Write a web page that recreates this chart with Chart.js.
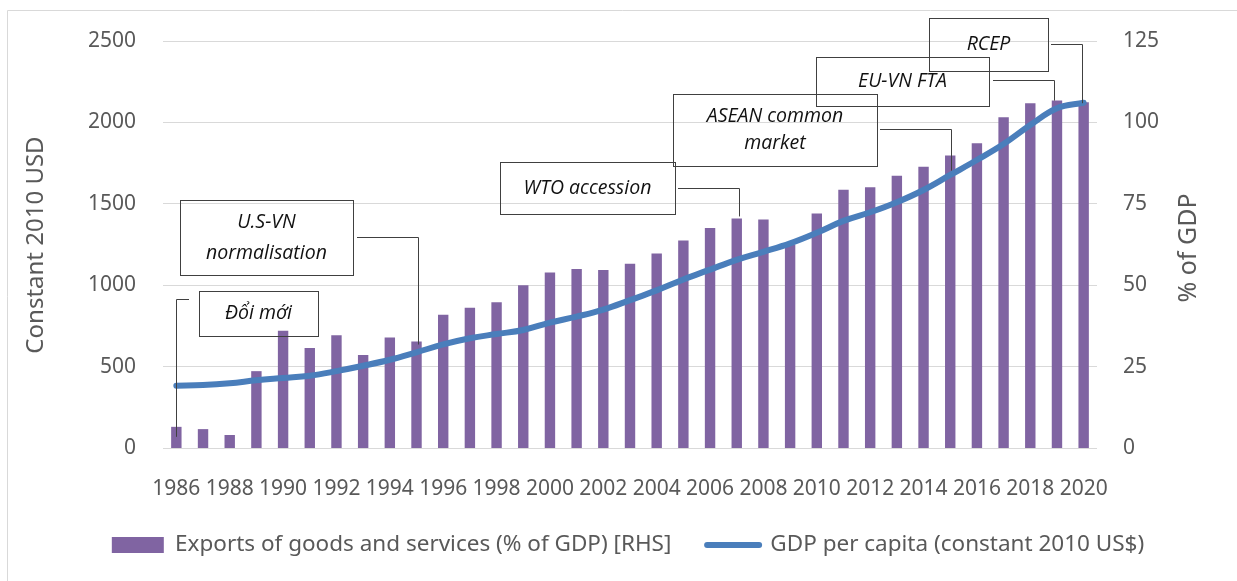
<!DOCTYPE html>
<html>
<head>
<meta charset="utf-8">
<script src="https://cdn.jsdelivr.net/npm/chart.js@4.4.1/dist/chart.umd.min.js"></script>
<style>
  html, body { margin: 0; padding: 0; background: #fff; }
</style>
</head>
<body>
<canvas id="chart" width="1237" height="581"></canvas>
<script>
const years = [
  "1986", "1987", "1988", "1989", "1990", "1991", "1992", "1993", "1994", "1995",
  "1996", "1997", "1998", "1999", "2000", "2001", "2002", "2003", "2004", "2005",
  "2006", "2007", "2008", "2009", "2010", "2011", "2012", "2013", "2014", "2015",
  "2016", "2017", "2018", "2019", "2020"
];

// Exports of goods and services, % of GDP (right axis)
const exportsPct = [
  6.5, 5.8, 4.0, 23.6, 36.0, 30.7, 34.6, 28.6, 33.9, 32.7,
  40.9, 43.1, 44.8, 50.0, 53.9, 55.0, 54.7, 56.6, 59.7, 63.7,
  67.6, 70.5, 70.2, 62.4, 72.0, 79.3, 80.1, 83.6, 86.4, 89.8,
  93.6, 101.6, 105.9, 106.7, 106.2
];

// GDP per capita, constant 2010 US$ (left axis)
const gdpPerCapita = [
  383, 387, 398, 416, 430, 444, 472, 505, 542, 588,
  636, 674, 700, 725, 770, 807, 850, 908, 968, 1035,
  1096, 1156, 1205, 1257, 1322, 1395, 1448, 1510, 1585, 1677,
  1769, 1867, 1984, 2087, 2121
];

const eventYears = ["1986", "1995", "2007", "2015", "2019", "2020"];
const eventLabels = [
  ["Đổi mới"],
  ["U.S-VN", "normalisation"],
  ["WTO accession"],
  ["ASEAN common", "market"],
  ["EU-VN FTA"],
  ["RCEP"]
];

// where each callout box sits on the page, and where its leader starts
const eventBoxes = [
  { x: 199, y: 291, w: 119, h: 45, sx: 189, ly: 299, dx: 0, dy: 10, lh: 0 },
  { x: 180, y: 200, w: 173, h: 75, sx: 357, ly: 237, dx: 1, dy: 3, lh: 31 },
  { x: 500, y: 162, w: 175, h: 52, sx: 678, ly: 188, dx: 2, dy: -2, lh: 0 },
  { x: 673, y: 94, w: 204, h: 72, sx: 880, ly: 129, dx: 1, dy: 15, lh: 27 },
  { x: 816, y: 57, w: 173, h: 49, sx: 993, ly: 80, dx: -3, dy: 0, lh: 0 },
  { x: 929, y: 18, w: 119, h: 53, sx: 1051, ly: 44, dx: -2, dy: 1, lh: 0 }
];

const TEXT = "#595959";
const FONT = "'Noto Sans', 'DejaVu Sans', sans-serif";

const framePlugin = {
  id: "frame",
  beforeDraw(chart) {
    const { ctx } = chart;
    ctx.save();
    ctx.strokeStyle = "#d9d9d9";
    ctx.lineWidth = 1;
    ctx.beginPath();
    ctx.moveTo(7.5, 600);
    ctx.lineTo(7.5, 10.5);
    ctx.lineTo(1240, 10.5);
    ctx.stroke();
    ctx.restore();
  }
};

const axisTitles = {
  id: "axisTitles",
  afterDraw(chart) {
    const { ctx } = chart;
    ctx.save();
    ctx.fillStyle = TEXT;
    ctx.textAlign = "center";
    ctx.textBaseline = "middle";
    [[36, 245, 24, "Constant 2010 USD"], [1189, 248, 25, "% of GDP"]].forEach(([x, y, size, t]) => {
      ctx.save();
      ctx.font = size + "px " + FONT;
      ctx.translate(x, y);
      ctx.rotate(-Math.PI / 2);
      ctx.fillText(t, 0, 0);
      ctx.restore();
    });
    ctx.restore();
  }
};

const eventCallouts = {
  id: "eventCallouts",
  afterDatasetsDraw(chart) {
    const { ctx } = chart;
    const xs = chart.scales.x;
    const ys = chart.scales.y2;
    ctx.save();
    eventYears.forEach((yr, i) => {
      const b = eventBoxes[i];
      const idx = years.indexOf(yr);
      const px = Math.round(xs.getPixelForValue(idx) + b.dx) + 0.5;
      const py = ys.getPixelForValue(exportsPct[idx]) + b.dy;
      ctx.strokeStyle = "#404040";
      ctx.lineWidth = 1;
      ctx.strokeRect(b.x + 0.5, b.y + 0.5, b.w, b.h);
      ctx.beginPath();
      ctx.moveTo(b.sx, b.ly + 0.5);
      ctx.lineTo(px, b.ly + 0.5);
      ctx.lineTo(px, py);
      ctx.stroke();

      const lines = eventLabels[i];
      const cx = b.x + b.w / 2;
      const cy = b.y + b.h / 2;
      ctx.fillStyle = "#111";
      ctx.font = "italic 19.5px 'Open Sans', 'Noto Sans', sans-serif";
      ctx.textAlign = "center";
      ctx.textBaseline = "middle";
      lines.forEach((t, k) => {
        ctx.fillText(t, cx, cy + (k - (lines.length - 1) / 2) * b.lh);
      });
    });
    ctx.restore();
  }
};

new Chart(document.getElementById("chart").getContext("2d"), {
  data: {
    labels: years,
    datasets: [
      {
        type: "bar",
        label: "Exports of goods and services (% of GDP) [RHS]",
        data: exportsPct,
        yAxisID: "y2",
        backgroundColor: "#8064a2",
        borderWidth: 0,
        barPercentage: 0.39,
        categoryPercentage: 1,
        order: 1
      },
      {
        type: "line",
        label: "GDP per capita (constant 2010 US$)",
        data: gdpPerCapita,
        yAxisID: "y",
        borderColor: "#4a7ebb",
        backgroundColor: "#4a7ebb",
        borderWidth: 6,
        borderCapStyle: "round",
        pointRadius: 0,
        tension: 0.4,
        fill: false,
        order: 0
      }
    ]
  },
  options: {
    responsive: false,
    devicePixelRatio: 1,
    animation: false,
    layout: { padding: { top: 41, left: 19, right: 0, bottom: 14.75 } },
    scales: {
      x: {
        offset: true,
        grid: { display: false },
        border: { display: false },
        ticks: {
          color: TEXT,
          font: { family: FONT, size: 21 },
          padding: 20,
          autoSkip: false,
          maxRotation: 0,
          callback: (v, i) => (i % 2 === 0 ? years[i] : "")
        },
        afterFit: (s) => { s.height = 50; }
      },
      y: {
        position: "left",
        min: 0,
        max: 2500,
        grid: { color: "#d9d9d9", lineWidth: 1, drawTicks: false },
        border: { display: false },
        ticks: {
          stepSize: 500,
          color: TEXT,
          font: { family: FONT, size: 21 },
          padding: 27,
          callback: (v) => String(v)
        },
        afterFit: (s) => { s.width = 144; }
      },
      y2: {
        position: "right",
        min: 0,
        max: 125,
        grid: { display: false, drawTicks: false },
        border: { display: false },
        ticks: {
          stepSize: 25,
          color: TEXT,
          font: { family: FONT, size: 21 },
          padding: 26,
          callback: (v) => String(v)
        },
        afterFit: (s) => { s.width = 140; }
      }
    },
    plugins: {
      legend: {
        position: "bottom",
        labels: {
          color: TEXT,
          font: { family: FONT, size: 22.5 },
          usePointStyle: true,
          pointStyleWidth: 52,
          boxHeight: 16,
          padding: 35.75,
          sort: (a, b) => a.datasetIndex - b.datasetIndex,
          generateLabels(chart) {
            const items = Chart.defaults.plugins.legend.labels.generateLabels(chart);
            items.forEach((it) => {
              if (it.datasetIndex === 0) { it.pointStyle = "rect"; it.lineWidth = 0; }
              else { it.pointStyle = "line"; it.lineWidth = 6; it.lineCap = "round"; }
            });
            return items;
          }
        }
      },
      tooltip: { enabled: false }
    }
  },
  plugins: [framePlugin, axisTitles, eventCallouts]
});
</script>
</body>
</html>
